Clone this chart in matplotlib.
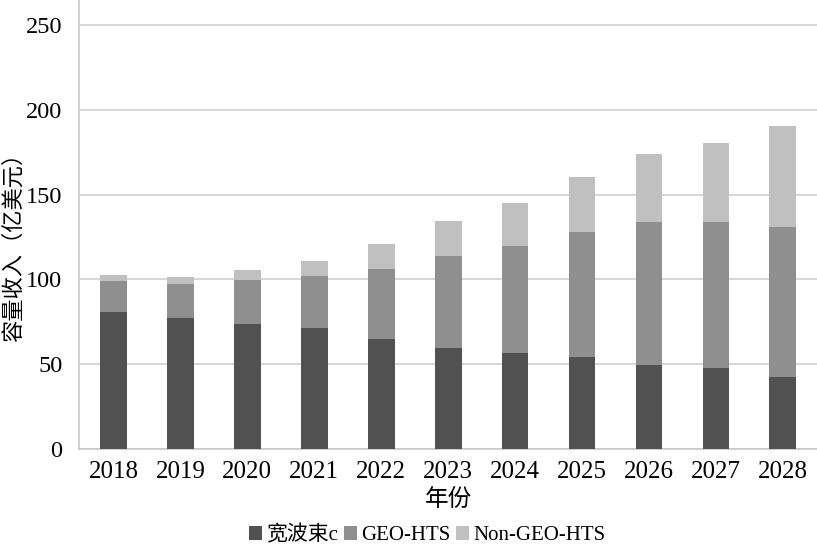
import matplotlib
matplotlib.use("Agg")
import matplotlib.pyplot as plt
import numpy as np

years = ["2018", "2019", "2020", "2021", "2022", "2023", "2024", "2025", "2026", "2027", "2028"]
wideband = [80.5, 77.5, 73.5, 71.5, 64.7, 59.5, 56.5, 54.2, 49.5, 47.5, 42.5]
geo_hts = [18.5, 19.8, 26.3, 30.5, 41.3, 54.5, 63.2, 73.6, 84.5, 86.5, 88.5]
non_geo_hts = [3.6, 4.3, 5.9, 8.8, 14.9, 20.2, 25.2, 32.8, 39.9, 46.6, 59.4]
series_names = ["宽波束c", "GEO-HTS", "Non-GEO-HTS"]
yticks = [0, 50, 100, 150, 200, 250]

plt.rcParams['font.family'] = ['Liberation Serif', 'Noto Sans CJK SC']

fig = plt.figure(figsize=(8.17, 5.45), dpi=100)
ax = fig.add_axes([79/817, 1-449/545, 1-79/817, 449/545])

x = np.arange(len(years))
w = 0.40
c1, c2, c3 = "#515151", "#8f8f8f", "#c0c0c0"
b1 = np.array(wideband)
b2 = b1 + np.array(geo_hts)
ax.bar(x, wideband, w, color=c1, label=series_names[0], zorder=3)
ax.bar(x, geo_hts, w, bottom=b1, color=c2, label=series_names[1], zorder=3)
ax.bar(x, non_geo_hts, w, bottom=b2, color=c3, label=series_names[2], zorder=3)

ax.set_xlim(-0.515, 10.51)
ax.set_ylim(0, 264.7)
ax.set_yticks(yticks)
ax.set_xticks(x)
ax.set_xticklabels(years, fontsize=18)
ax.tick_params(axis='y', labelsize=17.5, length=0, pad=12)
ax.tick_params(axis='x', length=0, pad=9)
ax.yaxis.grid(True, color="#d0d0d0", linewidth=1.2, zorder=0)
ax.set_axisbelow(True)
for s in ["top", "right"]:
    ax.spines[s].set_visible(False)
ax.spines["left"].set_color("#c8c8c8")
ax.spines["bottom"].set_color("#c8c8c8")
ax.spines["left"].set_linewidth(1.2)
ax.spines["bottom"].set_linewidth(1.2)

ax.set_xlabel("年份", fontsize=17, labelpad=4)
fig.text(14 / 817, 1 - 242 / 545, "容量收入（亿美元）", fontsize=16, rotation=90,
         ha="center", va="center")

leg = fig.legend(loc="lower center", bbox_to_anchor=(0.523, -0.035), ncol=3, frameon=False,
                 fontsize=15, handlelength=0.6, handleheight=0.6, handletextpad=0.2,
                 columnspacing=0.3)

fig.savefig("out.png", dpi=100)
